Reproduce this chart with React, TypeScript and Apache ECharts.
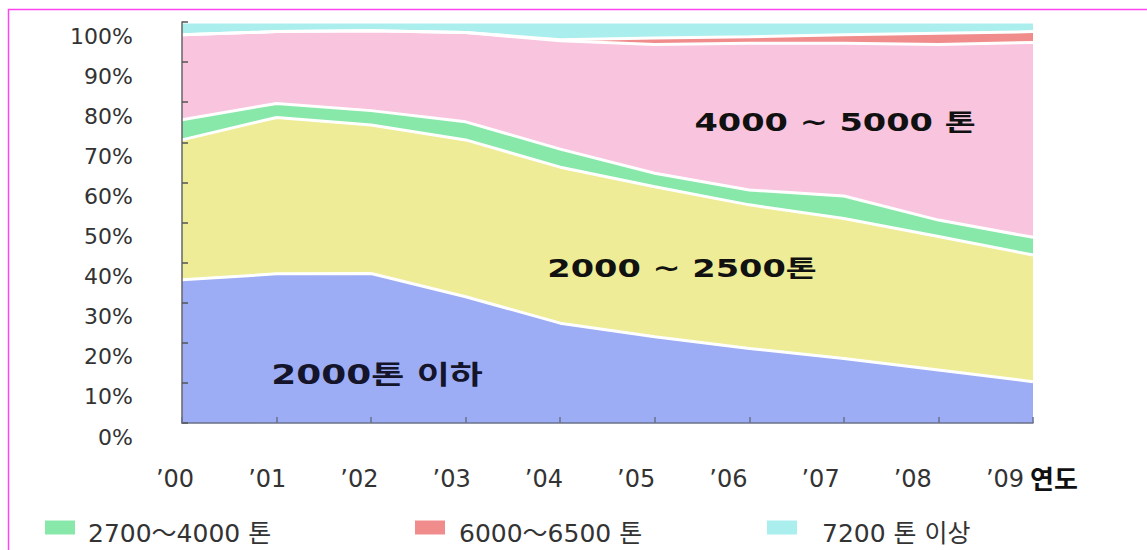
import React, { useEffect, useRef } from "react";
import * as echarts from "echarts";

const years = ["’00", "’01", "’02", "’03", "’04", "’05", "’06", "’07", "’08", "’09"];
const yTickLabels = ["0%", "10%", "20%", "30%", "40%", "50%", "60%", "70%", "80%", "90%", "100%"];

const below2000 = [35.7, 37.2, 37.3, 31.5, 24.9, 21.5, 18.6, 16.1, 13.2, 10.3];
const t2000to2500 = [34.9, 39.0, 37.0, 39.1, 38.9, 37.4, 35.8, 34.9, 33.3, 31.6];
const t2700to4000 = [5.0, 3.5, 3.6, 4.5, 4.5, 3.4, 3.7, 5.6, 4.1, 4.4];
const t4000to5000 = [21.2, 17.9, 19.9, 22.3, 27.0, 32.1, 36.6, 38.1, 43.8, 48.6];
const t6000to6500 = [0, 0, 0, 0, 0.3, 1.6, 1.6, 2.1, 2.8, 2.7];
const over7200 = [3.2, 2.4, 2.2, 2.6, 4.4, 4.0, 3.7, 3.2, 2.8, 2.4];

const seriesNames = ["2000톤 이하", "2000 ~ 2500톤", "2700～4000 톤", "4000 ~ 5000 톤", "6000～6500 톤", "7200 톤 이상"];
const seriesData = [below2000, t2000to2500, t2700to4000, t4000to5000, t6000to6500, over7200];
const seriesColors = ["#9cadf5", "#eeec96", "#88e8aa", "#f8c4de", "#f08c8c", "#aaeeee"];

const FONT = "'DejaVu Sans', 'Noto Sans CJK KR', sans-serif";

export default function App() {
  const ref = useRef<HTMLDivElement>(null);
  useEffect(() => {
    if (!ref.current) return;
    const chart = echarts.init(ref.current, undefined, { renderer: "svg" });

    const legendStyle = (name: string, color: string, left: number, padLeft: number) => ({
      data: [{ name, icon: "rect", itemStyle: { color, borderWidth: 0 } }],
      left,
      top: 504,
      itemWidth: 30,
      itemHeight: 14,
      selectedMode: false,
      formatter: (n: string) => `{a|${n}}`,
      textStyle: {
        rich: {
          a: {
            fontFamily: FONT,
            fontSize: 25,
            lineHeight: 25,
            color: "#333",
            padding: [12, 0, 0, padLeft],
          },
        },
      },
    });

    const option: any = {
      animation: false,
      backgroundColor: "#ffffff",
      grid: [
        { left: 182, right: 114, top: 22, bottom: 127 },
        { left: 175, right: 142, top: 22, bottom: 127 },
      ],
      xAxis: [
        {
          type: "category",
          gridIndex: 0,
          data: years,
          boundaryGap: false,
          axisLine: { show: true, lineStyle: { color: "#6a7088", width: 1.5 } },
          axisTick: { show: true, inside: true, length: 6, lineStyle: { color: "#6a7088", width: 1.5 } },
          axisLabel: { show: false },
          splitLine: { show: false },
          z: 10,
        },
        {
          type: "category",
          gridIndex: 1,
          data: years,
          boundaryGap: false,
          axisLine: { show: false },
          axisTick: { show: false },
          splitLine: { show: false },
          axisLabel: {
            show: true,
            margin: 44,
            fontFamily: FONT,
            fontSize: 24,
            lineHeight: 24,
            color: "#333",
          },
          name: "{a|연도}",
          nameLocation: "end",
          nameGap: 25,
          nameTextStyle: {
            rich: {
              a: {
                fontFamily: "'Noto Sans CJK KR', sans-serif",
                fontSize: 26,
                lineHeight: 26,
                fontWeight: "bold",
                color: "#111",
                padding: [108, 0, 0, 0],
              },
            },
          },
        },
      ],
      yAxis: [
        {
          type: "value",
          gridIndex: 0,
          min: 0,
          max: 100,
          interval: 10,
          axisLine: { show: true, lineStyle: { color: "#666", width: 1.5 } },
          axisTick: { show: true, inside: true, length: 6, lineStyle: { color: "#555", width: 1.5 } },
          splitLine: { show: false },
          axisLabel: {
            show: true,
            showMinLabel: true,
            showMaxLabel: true,
            margin: 49,
            fontFamily: FONT,
            fontSize: 22,
            lineHeight: 28,
            color: "#333",
            verticalAlign: "top",
            formatter: (v: number) => yTickLabels[Math.round(v / 10)],
          },
          z: 10,
        },
        { type: "value", gridIndex: 1, show: false, min: 0, max: 100 },
      ],
      legend: [
        legendStyle(seriesNames[2], seriesColors[2], 40, 8),
        legendStyle(seriesNames[4], seriesColors[4], 410, 9),
        legendStyle(seriesNames[5], seriesColors[5], 762, 20),
      ],
      series: seriesData.map((d, i) => ({
        name: seriesNames[i],
        type: "line",
        stack: "total",
        xAxisIndex: 0,
        yAxisIndex: 0,
        data: d,
        symbol: "none",
        smooth: false,
        color: seriesColors[i],
        itemStyle: { color: seriesColors[i] },
        lineStyle: { color: "#ffffff", width: 3 },
        areaStyle: { color: seriesColors[i], opacity: 1 },
      })),
      graphic: [
        {
          type: "rect",
          shape: { x: 8.5, y: 9.5, width: 1300, height: 700 },
          style: { fill: "none", stroke: "#ff44f0", lineWidth: 1.5 },
          silent: true,
        },
        {
          type: "text",
          x: 835,
          y: 123,
          scaleX: 1.4,
          z: 100,
          style: {
            text: "4000 ~ 5000 톤",
            fontFamily: FONT,
            fontSize: 24,
            fontWeight: "bold",
            fill: "#111",
            align: "center",
            verticalAlign: "middle",
            textAlign: "center",
            textVerticalAlign: "middle",
          },
        },
        {
          type: "text",
          x: 682,
          y: 269,
          scaleX: 1.4,
          z: 100,
          style: {
            text: "2000 ~ 2500톤",
            fontFamily: FONT,
            fontSize: 24,
            fontWeight: "bold",
            fill: "#111",
            align: "center",
            verticalAlign: "middle",
            textAlign: "center",
            textVerticalAlign: "middle",
          },
        },
        {
          type: "text",
          x: 377,
          y: 375,
          scaleX: 1.38,
          z: 100,
          style: {
            text: "2000톤 이하",
            fontFamily: FONT,
            fontSize: 26,
            fontWeight: "bold",
            fill: "#14142a",
            align: "center",
            verticalAlign: "middle",
            textAlign: "center",
            textVerticalAlign: "middle",
          },
        },
      ],
    };

    chart.setOption(option);
    return () => chart.dispose();
  }, []);

  return (
    <div
      ref={ref}
      style={{ position: "fixed", left: 0, top: 0, width: 1147, height: 550, background: "#fff" }}
    />
  );
}
